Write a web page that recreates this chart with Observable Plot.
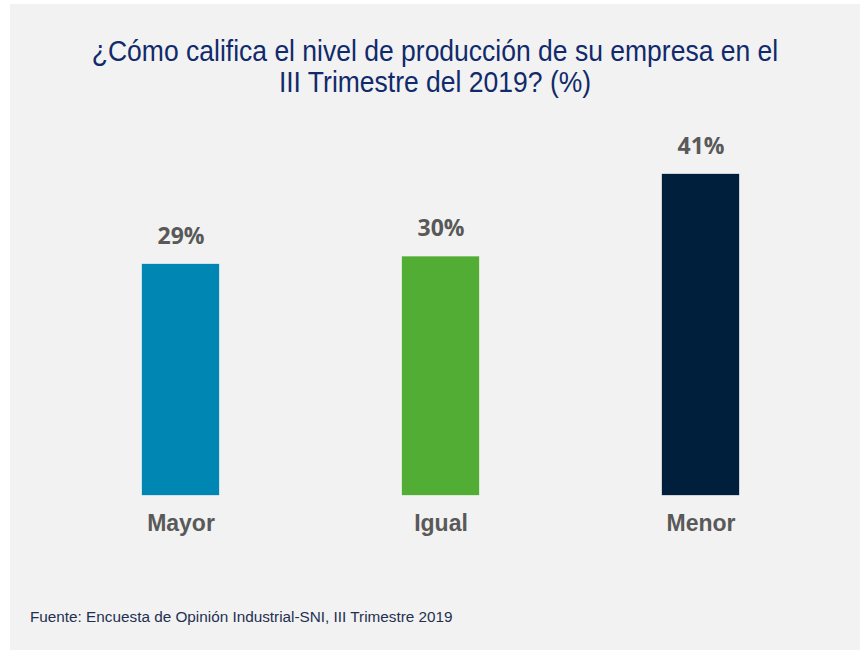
<!DOCTYPE html>
<html>
<head>
<meta charset="utf-8">
<script src="https://cdn.jsdelivr.net/npm/d3@7"></script>
<script src="https://cdn.jsdelivr.net/npm/@observablehq/plot@0.6"></script>
<style>
  html, body { margin: 0; padding: 0; background: #ffffff; }
  #frame {
    position: absolute; left: 10px; top: 4px; width: 850px; height: 646px;
    background: #f2f2f2; overflow: hidden;
  }
  #title {
    position: absolute; left: 0; top: 32px; width: 850px; text-align: center;
    font-family: "Liberation Sans", Arial, sans-serif; font-size: 26.5px; line-height: 27.5px;
    color: #112a6b; transform: scaleY(1.12); transform-origin: top center;
  }
  #chart { position: absolute; left: 0; top: 93px; }
  #caption {
    position: absolute; left: 20px; top: 604px;
    font-family: "Liberation Sans", Arial, sans-serif; font-size: 15.3px; color: #1f3050;
  }
</style>
</head>
<body>
<div id="frame">
  <div id="title">¿Cómo califica el nivel de producción de su empresa en el<br>III Trimestre del 2019? (%)</div>
  <div id="chart"></div>
  <div id="caption">Fuente: Encuesta de Opinión Industrial-SNI, III Trimestre 2019</div>
</div>
<script>
const categories = ["Mayor", "Igual", "Menor"];
const values = [29, 30, 41];
const colors = ["#0086b3", "#52ad34", "#001f3d"];

const data = categories.map((c, i) => ({ cat: c, value: values[i], color: colors[i] }));

const chart = Plot.plot({
  width: 850,
  height: 500,
  marginLeft: 40,
  marginRight: 29,
  marginTop: 77,
  marginBottom: 102,
  style: { background: "transparent", overflow: "visible" },
  x: { domain: categories, paddingInner: 0.705, paddingOuter: 0.3487, axis: null },
  y: { domain: [-1.8, 41], axis: null },
  marks: [
    Plot.barY(data, { x: "cat", y1: -1.8, y2: "value", fill: "color", stroke: "color", strokeOpacity: 0.6, strokeWidth: 0.5 }),
    Plot.text(data, {
      x: "cat", y: "value", text: d => d.value + "%", dy: -28,
      lineAnchor: "middle", textAnchor: "middle",
      fontFamily: "'Open Sans', sans-serif", fontWeight: "bold", fontSize: 23, fill: "#595959"
    }),
    Plot.text(data, {
      x: "cat", y: () => -1.8, text: "cat", dy: 28,
      lineAnchor: "middle", textAnchor: "middle",
      fontFamily: "'Liberation Sans', Arial, sans-serif", fontWeight: "bold", fontSize: 23, fill: "#595959"
    })
  ]
});
document.getElementById("chart").appendChild(chart);
</script>
</body>
</html>
